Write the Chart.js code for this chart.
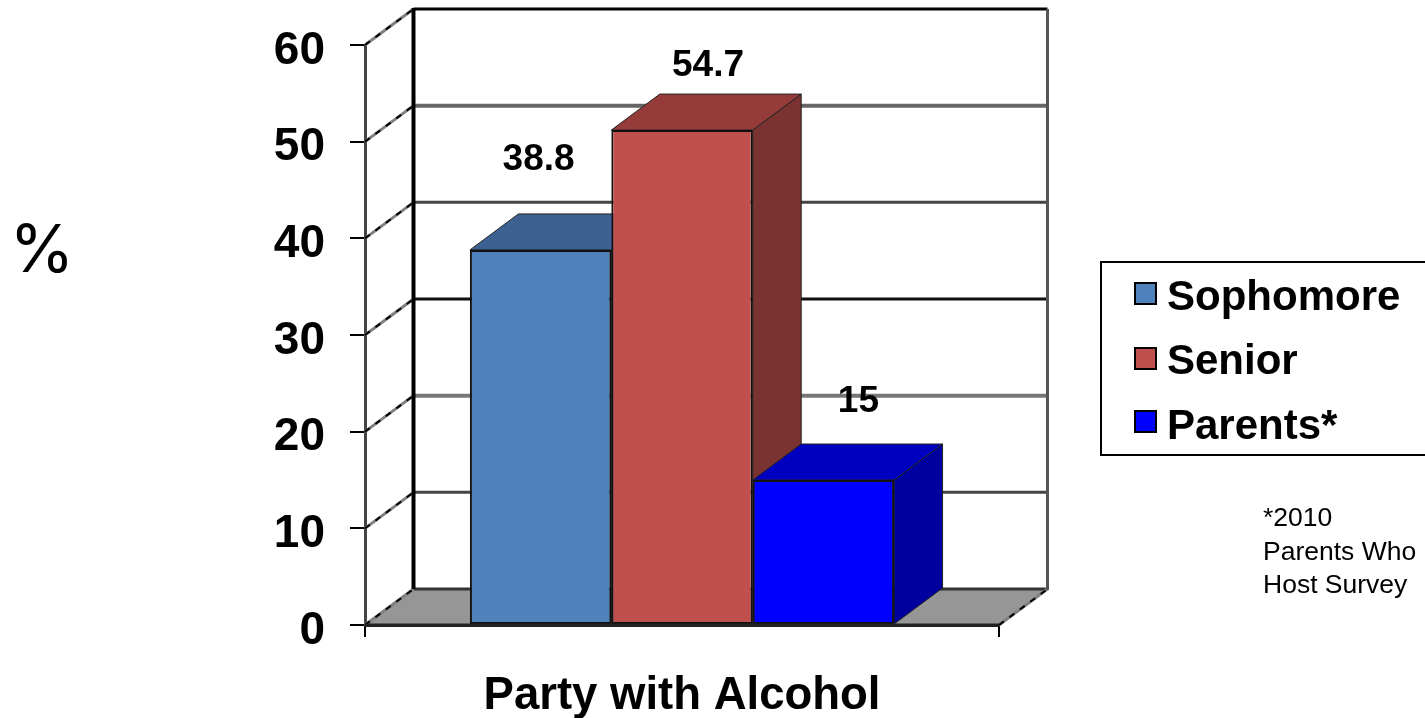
<!DOCTYPE html>
<html>
<head>
<meta charset="utf-8">
<title>Party with Alcohol</title>
<script src="https://cdn.jsdelivr.net/npm/chart.js@4/dist/chart.umd.min.js"></script>
<style>
  html, body { margin: 0; padding: 0; background: #fff; overflow: hidden; }
  canvas { display: block; }
</style>
</head>
<body>
<canvas id="chart" width="1425" height="718"></canvas>
<script>
// Data
const categories = ['Party with Alcohol'];
const seriesNames = ['Sophomore', 'Senior', 'Parents*'];
const sophomoreValues = [38.8];
const seniorValues = [51.2];   // height of the bar as drawn, its printed label says 54.7
const parentsValues = [15];
const printedLabels = ['38.8', '54.7', '15'];
const yTicks = [0, 10, 20, 30, 40, 50, 60];
const footnoteLines = ['*2010', 'Parents Who', 'Host Survey'];

// Styles
const FONT = '"Liberation Sans", Arial, sans-serif';
const frontColors = ['#4F81BD', '#C0504D', '#0000FF'];
const topColors = ['#3D6291', '#953C3A', '#0000C0'];
const sideColors = ['#335279', '#7B3331', '#00009E'];
const depth = { x: 48.5, y: -36 };
const labelShift = [[-2, -90], [26, -64], [35, -78]];
const gridColors = ['#333', '#444', '#777', '#111', '#444', '#666', '#000'];
const gridWidths = [3, 3, 4, 3, 3, 4, 3];

function poly(ctx, pts, fill, stroke, width) {
  ctx.beginPath();
  pts.forEach((p, i) => i ? ctx.lineTo(p[0], p[1]) : ctx.moveTo(p[0], p[1]));
  ctx.closePath();
  if (fill) { ctx.fillStyle = fill; ctx.fill(); }
  if (stroke) { ctx.strokeStyle = stroke; ctx.lineWidth = width; ctx.stroke(); }
}

function line(ctx, x1, y1, x2, y2, color, width, dash) {
  ctx.save();
  ctx.beginPath();
  ctx.moveTo(x1, y1);
  ctx.lineTo(x2, y2);
  ctx.strokeStyle = color;
  ctx.lineWidth = width;
  if (dash) ctx.setLineDash(dash);
  ctx.stroke();
  ctx.restore();
}

function diagonal(ctx, x, y) {
  line(ctx, x, y, x + depth.x, y + depth.y, '#808080', 3);
  line(ctx, x, y, x + depth.x, y + depth.y, '#000', 2, [6, 7]);
}

// back wall, floor and the sides and tops of the bars
const box3d = {
  id: 'box3d',
  beforeDraw(chart) {
    // tick labels sit a little under their tick in the original
    chart.scales.y.getLabelItems().forEach(item => {
      if (!item.moved) { item.options.translation[1] += 6; item.moved = true; }
    });
  },
  beforeDatasetsDraw(chart) {
    const ctx = chart.ctx;
    const { left, right, bottom } = chart.chartArea;
    const yScale = chart.scales.y;
    const bx = left + depth.x, brx = right + depth.x;
    const floorY = bottom + depth.y;
    const topY = yScale.getPixelForValue(60) + depth.y;

    poly(ctx, [[left, bottom], [bx, floorY], [brx, floorY], [right, bottom]], '#969696');
    yTicks.forEach((t, i) => {
      const y = yScale.getPixelForValue(t);
      line(ctx, bx, y + depth.y, brx, y + depth.y, gridColors[i], gridWidths[i]);
      diagonal(ctx, left, y);
    });
    diagonal(ctx, right, bottom);
    line(ctx, bx, topY - 1, bx, floorY, '#000', 4);
    line(ctx, brx, topY, brx, floorY + 1, '#555', 3);

    chart.data.datasets.forEach((ds, i) => {
      const bar = chart.getDatasetMeta(i).data[0];
      const x1 = bar.x - bar.width / 2, x2 = bar.x + bar.width / 2;
      const d = depth;
      poly(ctx, [[x2, bar.y], [x2 + d.x, bar.y + d.y], [x2 + d.x, bar.base + d.y], [x2, bar.base]], sideColors[i], '#222', 1);
      poly(ctx, [[x1, bar.y], [x1 + d.x, bar.y + d.y], [x2 + d.x, bar.y + d.y], [x2, bar.y]], topColors[i], '#222', 1);
    });
  },
  afterDraw(chart) {
    const ctx = chart.ctx;
    const { left, right, bottom } = chart.chartArea;
    ctx.save();
    ctx.fillStyle = '#000';

    // front floor edge runs over the foot of the bars
    line(ctx, left, bottom, right, bottom, '#222', 3);

    // printed values
    ctx.font = 'bold 37px ' + FONT;
    ctx.textAlign = 'center';
    ctx.textBaseline = 'middle';
    printedLabels.forEach((txt, i) => {
      const bar = chart.getDatasetMeta(i).data[0];
      ctx.fillText(txt, bar.x + labelShift[i][0], bar.y + labelShift[i][1]);
    });

    // axis unit
    ctx.font = '66px Inter, ' + FONT;
    ctx.fillText('%', 42, 252);

    // legend, open on the right because it runs off the page
    ctx.strokeStyle = '#000';
    ctx.lineWidth = 2;
    ctx.strokeRect(1101, 262, 340, 193);
    ctx.textAlign = 'left';
    ctx.textBaseline = 'alphabetic';
    ctx.font = 'bold 42px ' + FONT;
    const swatchY = [283, 348, 411];
    const baseY = [310, 374, 439];
    seriesNames.forEach((name, i) => {
      ctx.fillStyle = frontColors[i];
      ctx.fillRect(1135, swatchY[i], 21, 21);
      ctx.strokeRect(1135, swatchY[i], 21, 21);
      ctx.fillStyle = '#000';
      ctx.fillText(name, 1167, baseY[i]);
    });

    // footnote
    ctx.font = '26.5px ' + FONT;
    footnoteLines.forEach((txt, i) => ctx.fillText(txt, 1263, 526 + i * 33.5));
    ctx.restore();
  }
};

new Chart(document.getElementById('chart'), {
  type: 'bar',
  plugins: [box3d],
  data: {
    labels: categories,
    datasets: [sophomoreValues, seniorValues, parentsValues].map((values, i) => ({
      label: seriesNames[i],
      data: values,
      backgroundColor: frontColors[i],
      borderColor: '#111',
      borderWidth: 2,
      borderSkipped: false,
      categoryPercentage: 0.669,
      barPercentage: 1
    }))
  },
  options: {
    responsive: false,
    animation: false,
    layout: { padding: { left: 265, right: 426, top: 45, bottom: 0 } },
    plugins: { legend: { display: false }, tooltip: { enabled: false } },
    scales: {
      x: {
        afterFit: scale => { scale.height = 93; scale.paddingLeft = 0; scale.paddingRight = 0; },
        grid: { drawOnChartArea: false, color: '#000', lineWidth: 2, tickLength: 12 },
        border: { color: '#222', width: 3 },
        ticks: { color: '#000', font: { family: FONT, size: 45.5, weight: 'bold' }, padding: 32, maxRotation: 0 }
      },
      y: {
        min: 0,
        max: 60,
        afterFit: scale => { scale.width = 100; scale.paddingTop = 0; scale.paddingBottom = 0; },
        afterBuildTicks: scale => { scale.ticks = yTicks.map(value => ({ value })); },
        grid: { drawOnChartArea: false, color: '#000', lineWidth: 2, tickLength: 15 },
        border: { color: '#444', width: 3 },
        ticks: { color: '#000', font: { family: FONT, size: 46, weight: 'bold' }, padding: 25 }
      }
    }
  }
});
</script>
</body>
</html>
